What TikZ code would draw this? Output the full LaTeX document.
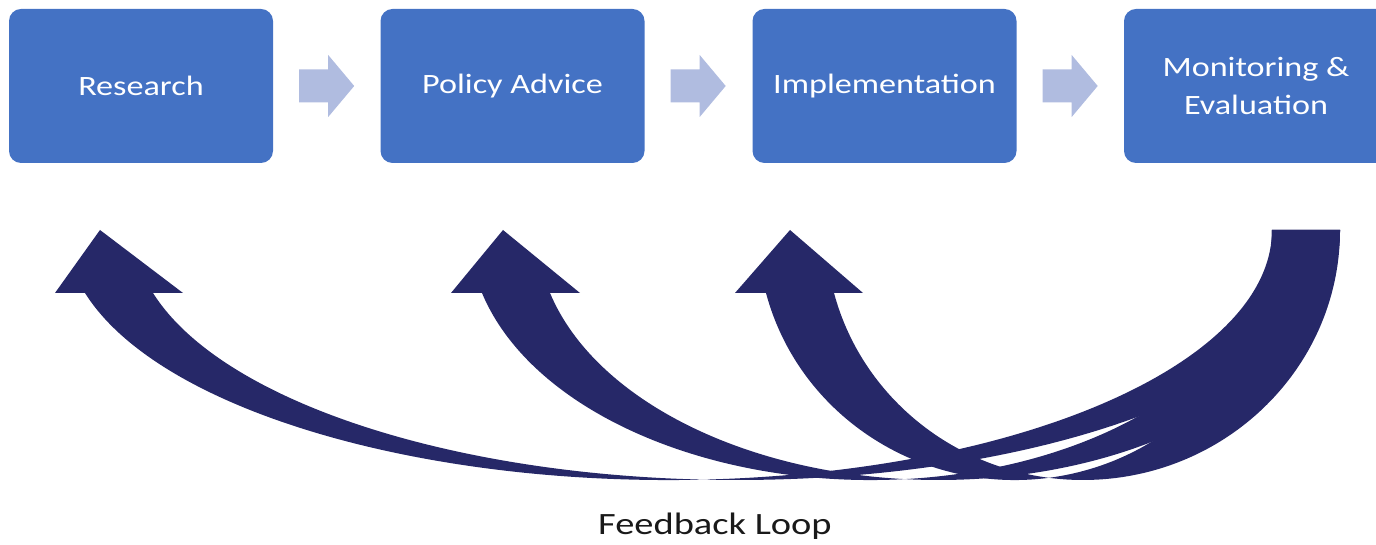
\documentclass[tikz,border=0pt]{standalone}
\usepackage{fontspec}
\usepackage{graphicx}
\setmainfont{Carlito}
\usetikzlibrary{calc}
\definecolor{boxblue}{HTML}{4472C4}
\definecolor{flowblue}{HTML}{B0BCE0}
\definecolor{navy}{HTML}{262868}
\newcommand\widetext[1]{\scalebox{1.22}[1]{#1}}
\begin{document}
\begin{tikzpicture}[x=1pt,y=1pt,
  stage/.style={fill=boxblue, rounded corners=12pt, minimum width=264pt,
    minimum height=154pt, inner sep=0pt, text=white,
    font=\fontsize{28}{38}\selectfont, align=center},
  flow/.style={fill=flowblue},
  loop/.style={fill=navy}]
\useasboundingbox (0,0) rectangle (1376,545);
\node[stage] (r) at (141,459) {\widetext{Research}};
\node[stage] (p) at (512.5,459) {\widetext{Policy Advice}};
\node[stage] (i) at (884.5,459) {\widetext{Implementation}};
\node[stage] (m) at (1256,459) {\widetext{Monitoring \&}\\\widetext{Evaluation}};
\foreach \s in {r,p,i}{
  \fill[flow] ($(\s.east)+(26,16.5)$) -- ($(\s.east)+(55,16.5)$) -- ($(\s.east)+(55,31)$)
    -- ($(\s.east)+(81,0)$) -- ($(\s.east)+(55,-31)$) -- ($(\s.east)+(55,-16.5)$)
    -- ($(\s.east)+(26,-16.5)$) -- cycle;
}
\coordinate (tail) at (1340,315);
\foreach \a/\hl/\hr/\tp in {603.24/55/183/100, 401.48/451/580/503, 257.15/735/863/790}{
  \fill[loop] (tail) arc[start angle=0,end angle=-165.403,x radius=\a,y radius=250]
    -- (\hr,252) -- (\tp,315) -- (\hl,252)
    -- ({1340-\a-68-0.96772*\a},252)
    arc[start angle=-165.403,end angle=0,x radius=\a,y radius=250] -- cycle;
}
\node[anchor=base west, inner sep=0pt, text=black!90, font=\fontsize{31}{36}\selectfont] (fb) at (598,10) {\scalebox{1.24}[1]{Feedback Loop}};
\end{tikzpicture}
\end{document}
